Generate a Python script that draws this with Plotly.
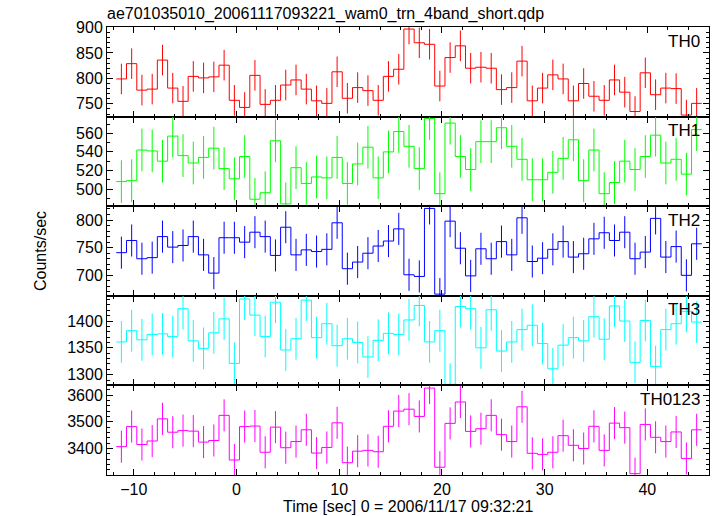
import plotly.graph_objects as go
from plotly.subplots import make_subplots

# Bin centres (s, 1-s bins)
time = [-11.2, -10.2, -9.2, -8.2, -7.2, -6.2, -5.2, -4.2, -3.2, -2.2, -1.2, -0.2,
        0.8, 1.8, 2.8, 3.8, 4.8, 5.8, 6.8, 7.8, 8.8, 9.8, 10.8, 11.8, 12.8, 13.8,
        14.8, 15.8, 16.8, 17.8, 18.8, 19.8, 20.8, 21.8, 22.8, 23.8, 24.8, 25.8,
        26.8, 27.8, 28.8, 29.8, 30.8, 31.8, 32.8, 33.8, 34.8, 35.8, 36.8, 37.8,
        38.8, 39.8, 40.8, 41.8, 42.8, 43.8, 44.8]

th0 = [799, 829, 777, 779, 836, 781, 755, 804, 801, 803, 826, 757, 743, 806, 749,
       757, 787, 797, 779, 756, 751, 813, 761, 782, 776, 757, 804, 818, 897, 870,
       867, 785, 841, 864, 820, 822, 820, 778, 782, 834, 756, 781, 807, 799, 756,
       790, 765, 757, 797, 773, 735, 811, 768, 781, 780, 728, 751]

th1 = [508, 509, 542, 541, 530, 557, 536, 528, 534, 544, 522, 511, 535, 489, 496,
       552, 484, 523, 506, 513, 512, 534, 506, 527, 545, 512, 540, 562, 546, 522,
       576, 495, 571, 535, 521, 551, 551, 566, 546, 532, 510, 510, 518, 533, 553,
       509, 542, 495, 507, 530, 521, 535, 558, 528, 532, 516, 564]

th2 = [741, 763, 730, 732, 770, 751, 754, 770, 737, 704, 768, 768, 760, 778, 770,
       736, 787, 737, 746, 743, 747, 795, 712, 724, 740, 753, 762, 784, 701, 698,
       821, 666, 798, 749, 699, 748, 730, 761, 737, 804, 725, 731, 747, 761, 733,
       739, 766, 777, 763, 778, 730, 742, 803, 733, 752, 700, 757]

th3 = [1361, 1382, 1365, 1375, 1376, 1371, 1423, 1363, 1349, 1378, 1404, 1321,
       1441, 1411, 1371, 1435, 1346, 1367, 1439, 1369, 1395, 1354, 1367, 1360,
       1333, 1364, 1377, 1375, 1402, 1429, 1361, 1382, 1282, 1427, 1423, 1350,
       1421, 1344, 1361, 1384, 1392, 1358, 1311, 1355, 1369, 1363, 1408, 1366,
       1428, 1400, 1323, 1401, 1315, 1384, 1395, 1418, 1398]

th0123 = [3407, 3482, 3415, 3428, 3511, 3461, 3467, 3465, 3424, 3430, 3524, 3357,
          3482, 3484, 3386, 3480, 3403, 3426, 3470, 3383, 3404, 3496, 3347, 3390,
          3393, 3388, 3483, 3540, 3547, 3520, 3626, 3330, 3494, 3574, 3464, 3474,
          3524, 3452, 3426, 3556, 3382, 3378, 3386, 3448, 3412, 3400, 3483, 3393,
          3495, 3478, 3306, 3490, 3442, 3426, 3462, 3363, 3470]

channels = ["TH0", "TH1", "TH2", "TH3", "TH0123"]
series = [th0, th1, th2, th3, th0123]
errors = [30, 23, 29, 39, 60]           # typical 1-sigma half-width per channel
colors = ["#ff0000", "#00ff00", "#0000ff", "#00ffff", "#ff00ff"]
y_ranges = [[725, 901], [481.5, 578], [663, 825], [1280, 1447], [3301, 3636]]
y_major = [50, 20, 50, 50, 100]
y_minor = [10, 10, 10, 10, 20]
x_range = [-12.6, 46.0]

fig = make_subplots(rows=5, cols=1, shared_xaxes=True, vertical_spacing=0)

FONT = "Liberation Sans, Arial, Helvetica, sans-serif"

for i, (name, vals, err, col) in enumerate(zip(channels, series, errors, colors)):
    r = i + 1
    edges = [t - 0.5 for t in time] + [time[-1] + 0.5]
    fig.add_trace(go.Scatter(x=edges, y=vals + [vals[-1]], mode="lines",
                             line=dict(color=col, width=1, shape="hv"),
                             showlegend=False, hoverinfo="skip"), row=r, col=1)
    fig.add_trace(go.Scatter(x=time, y=vals, mode="markers",
                             marker=dict(size=1, color=col, opacity=0),
                             error_y=dict(type="constant", value=err, color=col,
                                          thickness=1, width=0),
                             showlegend=False), row=r, col=1)
    fig.update_yaxes(range=y_ranges[i], dtick=y_major[i], tick0=0,
                     ticks="inside", ticklen=6, tickcolor="black",
                     minor=dict(dtick=y_minor[i], ticks="inside", ticklen=3,
                                tickcolor="black"),
                     showline=True, linecolor="black", linewidth=1,
                     mirror="allticks", showgrid=False, zeroline=False,
                     automargin=False,
                     tickfont=dict(size=16, color="black", family=FONT),
                     row=r, col=1)
    fig.update_xaxes(range=x_range, dtick=10, tick0=0,
                     ticks="inside", ticklen=6, tickcolor="black",
                     minor=dict(dtick=2, ticks="inside", ticklen=3,
                                tickcolor="black"),
                     showline=True, linecolor="black", linewidth=1,
                     mirror="allticks", showgrid=False, zeroline=False,
                     automargin=False,
                     showticklabels=(r == 5),
                     tickfont=dict(size=16, color="black", family=FONT),
                     row=r, col=1)
    xa = "x" if r == 1 else f"x{r}"
    ya = "y" if r == 1 else f"y{r}"
    fig.add_annotation(text=name, xref=f"{xa} domain", yref=f"{ya} domain",
                       x=0.988, y=0.97, xanchor="right", yanchor="top",
                       showarrow=False,
                       font=dict(size=17, color="black", family=FONT))

fig.add_annotation(text="Time [sec] 0 = 2006/11/17 09:32:21", xref="paper",
                   yref="paper", x=0.5, y=-31 / 448, xanchor="center",
                   yanchor="middle", showarrow=False,
                   font=dict(size=16, color="black", family=FONT))

fig.add_annotation(text="Counts/sec", xref="paper", yref="paper",
                   x=-67 / 602, y=0.5, textangle=-90, showarrow=False,
                   xanchor="center", yanchor="middle",
                   font=dict(size=16, color="black", family=FONT))

fig.update_layout(
    width=717, height=516,
    margin=dict(l=107, r=8, t=27, b=41),
    paper_bgcolor="white", plot_bgcolor="white",
    title=dict(text="ae701035010_20061117093221_wam0_trn_4band_short.qdp",
               x=107 / 717, xanchor="left", y=1 - 13 / 516, yanchor="middle",
               automargin=False,
               font=dict(size=16, color="black", family=FONT)),
    font=dict(family=FONT, color="black"),
)

fig.write_html("out.html",
               config={"displayModeBar": False},
               post_script="document.body.style.margin='0px';"
                           "document.body.style.overflow='hidden';")
